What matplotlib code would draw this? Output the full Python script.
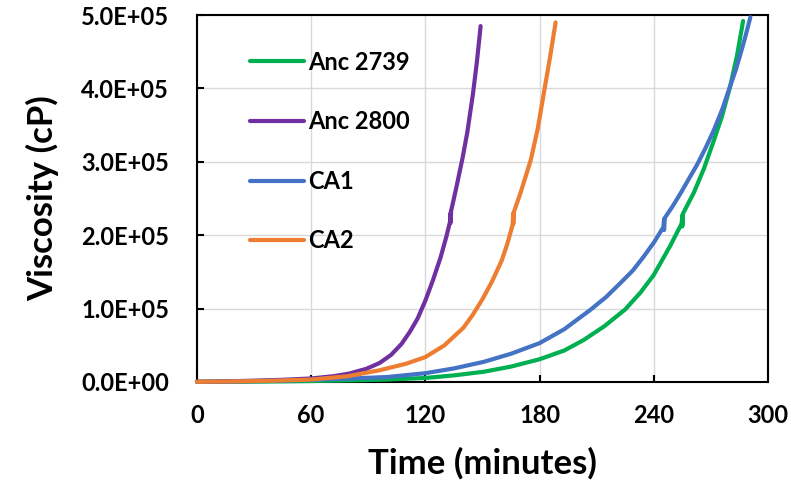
import matplotlib.pyplot as plt

plt.rcParams['font.family'] = ['Lato', 'DejaVu Sans']
plt.rcParams['font.weight'] = 'bold'

# Data; each curve has a small glitch near 2.2E+05
t_anc2739 = [0, 20, 40, 60, 80, 100, 120, 135, 150.7, 165, 180, 193, 203, 214, 225, 233, 240, 248.7,
             254.6, 255.0, 254.95, 255.2, 261, 266.2, 271.5, 275.8, 280.2, 283.7, 286.9]
v_anc2739 = [100, 300, 700, 1300, 2200, 3300, 5500, 9000, 14000, 21000, 31000, 43000, 57000, 76000, 99000, 122000, 146000, 186000,
             216000, 227000, 212000, 229000, 258000, 290000, 329000, 362000, 404000, 445000, 492000]

t_anc2800 = [0, 15, 30, 45, 60, 72, 80, 89, 96, 102, 107.5, 112, 116, 120, 124, 128, 131,
             132.9, 133.3, 133.25, 133.5, 136, 139.5, 142, 145, 147, 149]
v_anc2800 = [300, 900, 1800, 3000, 4800, 8000, 11500, 18000, 26000, 37000, 52000, 69000, 87000, 111000, 139000, 170000, 198000,
             218000, 231000, 217000, 233000, 262000, 305000, 340000, 393000, 435000, 485000]

t_ca1 = [0, 20, 40, 60, 80, 100, 120, 135, 150.7, 165, 180, 193, 206.8, 215, 222.5, 229, 234.7, 240,
         245.0, 245.4, 245.35, 245.6, 250, 254, 258, 262.7, 267, 271.5, 276, 280.2, 283, 285.5, 288, 290.7]
v_ca1 = [200, 700, 1600, 3000, 4700, 6800, 12000, 18500, 27500, 38500, 53000, 72000, 98600, 116000, 135000, 152000, 171000, 190000,
         211000, 222000, 207000, 223000, 240000, 257000, 275000, 296000, 318000, 343000, 372000, 404000, 425000, 447000, 470000, 497000]

t_ca2 = [0, 20, 40, 60, 79, 96, 110, 120, 130, 140, 145, 150, 155, 160, 163,
         165.8, 166.2, 166.15, 166.4, 170, 175.3, 179, 182.3, 185.5, 188.4]
v_ca2 = [300, 800, 1800, 3300, 7800, 16000, 25000, 34000, 50000, 74000, 92000, 113000, 137000, 165000, 188000,
         214000, 230000, 215000, 231000, 258000, 302000, 345000, 395000, 443000, 490000]

x_ticks = [0, 60, 120, 180, 240, 300]
y_ticks = [0, 100000, 200000, 300000, 400000, 500000]
y_tick_labels = ["0.0E+00", "1.0E+05", "2.0E+05", "3.0E+05", "4.0E+05", "5.0E+05"]

fig = plt.figure(figsize=(7.91, 4.86), dpi=100)
ax = fig.add_axes([0.249, 0.214, 0.722, 0.755])

kw = dict(lw=3, solid_capstyle="round", solid_joinstyle="round", clip_on=False, zorder=3)
ax.plot(t_anc2739, v_anc2739, color="#00B050", label="Anc 2739", **kw)
ax.plot(t_anc2800, v_anc2800, color="#7030A0", label="Anc 2800", **kw)
ax.plot(t_ca1, v_ca1, color="#4472C4", label="CA1", **kw)
ax.plot(t_ca2, v_ca2, color="#ED7D31", label="CA2", **kw)

ax.set_xlim(0, 300)
ax.set_ylim(0, 500000)
ax.set_xticks(x_ticks)
ax.set_yticks(y_ticks)
ax.set_yticklabels(y_tick_labels)
ax.grid(True, color="#D9D9D9", lw=1)
ax.set_axisbelow(True)
for s in ax.spines.values():
    s.set_linewidth(1.5)
    s.set_color("black")
ax.tick_params(direction="in", length=5, width=1.5, labelsize=17)
ax.tick_params(axis="y", pad=20)
ax.tick_params(axis="x", pad=16)

ax.set_xlabel("Time (minutes)", fontsize=25, fontweight="bold", labelpad=14)
ax.set_ylabel("Viscosity (cP)", fontsize=25, fontweight="bold", labelpad=16)

ax.legend(loc="upper left", bbox_to_anchor=(0.093, 0.903), frameon=False,
          fontsize=17, handlelength=2.3, handletextpad=0.17, labelspacing=1.55,
          borderpad=0, borderaxespad=0)

fig.savefig("out.png", dpi=100)
